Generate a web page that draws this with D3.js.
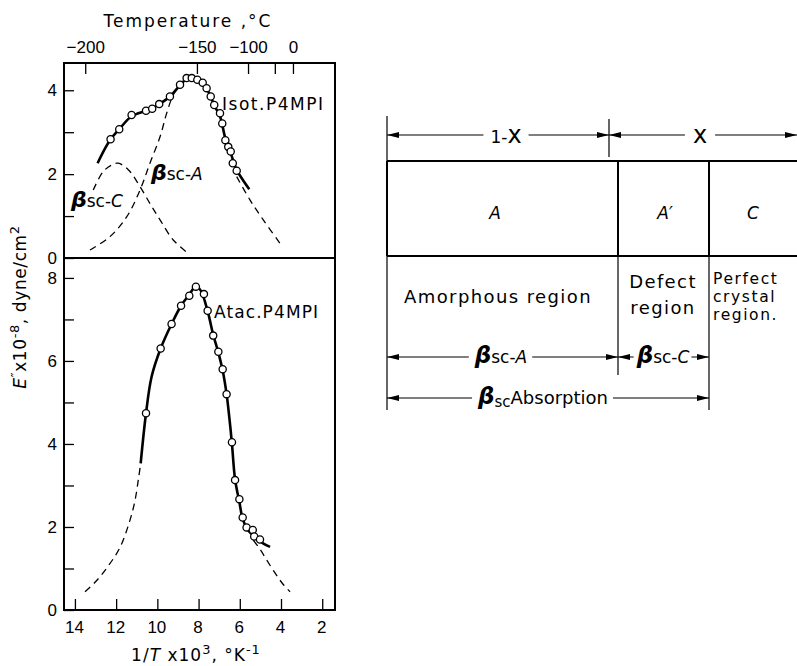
<!DOCTYPE html>
<html><head><meta charset="utf-8">
<script src="https://cdn.jsdelivr.net/npm/d3@7"></script>
<style>
body{margin:0;background:#fff}
svg{display:block}
text{font-family:"DejaVu Sans",sans-serif;fill:#000}
.tick text{font-family:"Liberation Sans",Arial,sans-serif;font-size:17px}
</style>
</head><body>
<svg id="c" width="797" height="666"></svg>
<script>
// ---------- data ----------
const xTickValues = [14, 12, 10, 8, 6, 4, 2];
const topTickLabels = ["\u2212200", "\u2212150", "\u2212100", "", "0"];
const topTickInv = [13.5, 8.08, 5.6, 4.3, 3.42];
const topYTicks = [0, 1, 2, 3, 4];
const botYTicks = [0, 1, 2, 3, 4, 5, 6, 7, 8];

// Isotactic P4MPI measured points [1/T x 10^3, E'' x 10^-8]
const isotX = [12.27, 11.85, 11.25, 10.55, 10.25, 9.91, 9.39, 8.90, 8.58, 8.33, 8.06, 7.80, 7.61, 7.41, 7.24, 6.96, 6.85, 6.70, 6.56, 6.44, 6.34, 6.15];
const isotY = [2.83, 3.07, 3.41, 3.51, 3.56, 3.67, 3.85, 4.13, 4.29, 4.29, 4.25, 4.18, 4.05, 3.85, 3.65, 3.45, 3.21, 2.81, 2.65, 2.54, 2.26, 2.08];
const isotFitX = [12.9, 12.55, 12.27, 11.85, 11.25, 10.55, 10.25, 9.91, 9.39, 8.9, 8.58, 8.33, 8.06, 7.8, 7.61, 7.41, 7.24, 6.96, 6.7, 6.44, 6.15, 5.85, 5.54];
const isotFitY = [2.26, 2.6, 2.83, 3.07, 3.38, 3.51, 3.57, 3.67, 3.85, 4.12, 4.28, 4.31, 4.27, 4.18, 4.04, 3.85, 3.64, 3.38, 2.85, 2.5, 2.1, 1.86, 1.64];
// beta_sc-C component (dashed)
const betaCX = [13.11, 12.63, 12.2, 11.9, 11.4, 10.84, 10.3, 9.87, 9.23, 8.5];
const betaCY = [1.62, 2.06, 2.22, 2.26, 2.1, 1.7, 1.25, 0.91, 0.43, 0.11];
// beta_sc-A component (dashed), hidden under the fit between the two branches
const betaALeftX = [13.27, 12.3, 11.49, 10.84, 10.36, 9.87, 9.55, 9.23, 8.95];
const betaALeftY = [0.19, 0.51, 0.98, 1.62, 2.26, 2.89, 3.45, 3.89, 4.1];
const betaARightX = [6.15, 5.5, 4.86, 4.05];
const betaARightY = [1.94, 1.38, 0.91, 0.35];

// Atactic P4MPI
const atacX = [10.55, 9.84, 9.31, 8.85, 8.45, 8.13, 7.74, 7.56, 7.29, 7.04, 6.83, 6.64, 6.38, 6.23, 6.02, 5.86, 5.67, 5.37, 5.30, 5.02];
const atacY = [4.74, 6.30, 6.89, 7.33, 7.57, 7.79, 7.61, 7.21, 6.61, 6.22, 5.80, 5.20, 4.04, 3.13, 2.67, 2.23, 1.99, 1.93, 1.77, 1.70];
const atacFitX = [10.81, 10.55, 10.28, 9.84, 9.31, 8.85, 8.45, 8.13, 7.9, 7.56, 7.29, 7.04, 6.83, 6.64, 6.5, 6.38, 6.23, 6.02, 5.86, 5.6, 5.2, 4.85, 4.53];
const atacFitY = [3.53, 4.74, 5.62, 6.3, 6.89, 7.33, 7.6, 7.8, 7.7, 7.2, 6.63, 6.2, 5.77, 5.2, 4.6, 4.0, 3.15, 2.6, 2.2, 1.92, 1.74, 1.6, 1.52];
const atacTailLX = [13.51, 13.0, 12.4, 11.82, 11.4, 11.1, 10.92, 10.81];
const atacTailLY = [0.44, 0.68, 1.05, 1.5, 2.05, 2.6, 3.15, 3.53];
const atacTailRX = [5.34, 5.0, 4.69, 4.3, 3.9, 3.56];
const atacTailRY = [1.68, 1.45, 1.2, 0.9, 0.62, 0.44];

// schematic (right)
const regionLabels = ["A", "A\u2032", "C"];
const regionTexts = [["Amorphous region"], ["Defect", "region"], ["Perfect", "crystal", "region."]];

const zip = (a, b) => a.map((v, i) => [v, b[i]]);

// ---------- layout ----------
const svg = d3.select("#c");
const L = 64, R = 335, T = 63, MID = 258, B = 610;
const x = d3.scaleLinear().domain([14.53, 1.38]).range([L, R]);
const yTop = d3.scaleLinear().domain([0, 4.65]).range([MID, T]);
const yBot = d3.scaleLinear().domain([0, 8.48]).range([B, MID]);

function rich(sel, parts) {
  let shift = 0;
  parts.forEach(p => {
    const ts = sel.append("tspan").text(p.t);
    let target = 0;
    if (p.sup) target = -(p.sup);
    if (p.sub) target = p.sub;
    const dy = target - shift;
    if (dy) ts.attr("dy", dy);
    shift = target;
    if (p.size) ts.style("font-size", p.size + "px");
    if (p.it) ts.style("font-style", "italic");
    if (p.b) ts.style("font-weight", "bold");
    if (p.ls != null) ts.style("letter-spacing", p.ls + "px");
  });
  return sel;
}

// axes
const gx = svg.append("g").attr("transform", `translate(0,${B})`)
  .call(d3.axisBottom(x).tickValues(xTickValues).tickSizeInner(-11).tickSizeOuter(0).tickPadding(11).tickFormat(d3.format("d")));
const gt = svg.append("g").attr("transform", `translate(0,${T})`)
  .call(d3.axisTop(x).tickValues(topTickInv).tickSizeInner(-11).tickSizeOuter(0).tickPadding(10)
    .tickFormat((d, i) => topTickLabels[i]));
const gyT = svg.append("g").attr("transform", `translate(${L},0)`)
  .call(d3.axisLeft(yTop).tickValues(topYTicks).tickSizeInner(-10).tickSizeOuter(0).tickPadding(7)
    .tickFormat(d => d % 2 === 0 ? d : ""));
const gyB = svg.append("g").attr("transform", `translate(${L},0)`)
  .call(d3.axisLeft(yBot).tickValues(botYTicks).tickSizeInner(-10).tickSizeOuter(0).tickPadding(7)
    .tickFormat(d => d % 2 === 0 ? d : ""));
[gx, gt, gyT, gyB].forEach(g => {
  g.select(".domain").remove();
  g.selectAll(".tick line").attr("stroke", "#000").attr("stroke-width", 1.3);
});
gx.selectAll(".tick text").attr("dx", "-1");

// frame
svg.append("rect").attr("x", L).attr("y", T).attr("width", R - L).attr("height", B - T)
  .attr("fill", "none").attr("stroke", "#000").attr("stroke-width", 2);
svg.append("line").attr("x1", L).attr("x2", R).attr("y1", MID).attr("y2", MID)
  .attr("stroke", "#000").attr("stroke-width", 2);

// lines
const lineT = d3.line().x(d => x(d[0])).y(d => yTop(d[1])).curve(d3.curveCatmullRom.alpha(0.5));
const lineB = d3.line().x(d => x(d[0])).y(d => yBot(d[1])).curve(d3.curveCatmullRom.alpha(0.5));
const dashed = {fill: "none", stroke: "#000", "stroke-width": 1.3, "stroke-dasharray": "7,5"};
const solid = {fill: "none", stroke: "#000", "stroke-width": 2.6};
function path(gen, data, style) {
  const p = svg.append("path").attr("d", gen(data));
  Object.entries(style).forEach(([k, v]) => p.attr(k, v));
}
path(lineT, zip(betaCX, betaCY), dashed);
path(lineT, zip(betaALeftX, betaALeftY), dashed);
path(lineT, zip(betaARightX, betaARightY), dashed);
path(lineT, zip(isotFitX, isotFitY), solid);
path(lineB, zip(atacTailLX, atacTailLY), dashed);
path(lineB, zip(atacTailRX, atacTailRY), dashed);
path(lineB, zip(atacFitX, atacFitY), solid);

svg.append("g").selectAll("circle").data(zip(isotX, isotY)).join("circle")
  .attr("cx", d => x(d[0])).attr("cy", d => yTop(d[1])).attr("r", 3.6)
  .attr("fill", "#fff").attr("stroke", "#000").attr("stroke-width", 1.3);
svg.append("g").selectAll("circle").data(zip(atacX, atacY)).join("circle")
  .attr("cx", d => x(d[0])).attr("cy", d => yBot(d[1])).attr("r", 3.6)
  .attr("fill", "#fff").attr("stroke", "#000").attr("stroke-width", 1.3);

// chart labels
svg.append("text").attr("x", 222).attr("y", 110).style("font-size", "17px")
  .attr("textLength", 101).attr("lengthAdjust", "spacing").text("Isot.P4MPI");
svg.append("text").attr("x", 214).attr("y", 318).style("font-size", "17px")
  .attr("textLength", 104).attr("lengthAdjust", "spacing").text("Atac.P4MPI");

function betaLabel(px, py, suffix, size) {
  const t = svg.append("text").attr("x", px).attr("y", py).style("font-size", size + "px");
  rich(t, [{t: "\u03B2", it: true, b: true, size: size + 5},
           {t: "sc", size: size},
           {t: "-", size: size},
           {t: suffix, it: true, size: size}]);
  return t;
}
betaLabel(151, 180, "A", 17);
betaLabel(71, 207, "C", 17);

// axis titles
const tt = svg.append("text").attr("x", 188).attr("y", 27).attr("text-anchor", "middle")
  .style("font-size", "17px").style("letter-spacing", "2px");
rich(tt, [{t: "Temperature ,\u00B0C"}]);

const bt = svg.append("text").attr("x", 196).attr("y", 661).attr("text-anchor", "middle")
  .style("font-size", "17px").style("letter-spacing", "1px");
rich(bt, [{t: "1/"}, {t: "T", it: true}, {t: " x10"}, {t: "3", sup: 7, size: 13},
          {t: ", \u00B0K", sup: 0}, {t: "-1", sup: 7, size: 13}]);

const yt = svg.append("text").attr("transform", "translate(26,307) rotate(-90)")
  .attr("text-anchor", "middle").style("font-size", "17px").style("letter-spacing", "0.6px");
rich(yt, [{t: "E", it: true}, {t: "\u2033", sup: 6, size: 13}, {t: "x10", sup: 0},
          {t: "-8", sup: 7, size: 13}, {t: ", dyne/cm", sup: 0}, {t: "2", sup: 7, size: 13}]);

// ---------- schematic ----------
const sc = svg.append("g");
const ink = "#000";
const defs = svg.append("defs");
defs.append("marker").attr("id", "ah").attr("viewBox", "0 0 12 6").attr("refX", 12).attr("refY", 3)
  .attr("markerWidth", 12).attr("markerHeight", 6).attr("markerUnits", "userSpaceOnUse")
  .attr("orient", "auto-start-reverse")
  .append("path").attr("d", "M0,0 L12,3 L0,6 Z").attr("fill", ink);

const edges = [387, 618, 709, 800]; // box region edges
const split = 609;                  // 1-x | x split in the top dimension
const boxTop = 161, boxBot = 256;

function vline(xx, y1, y2, w) {
  sc.append("line").attr("x1", xx).attr("x2", xx).attr("y1", y1).attr("y2", y2)
    .attr("stroke", ink).attr("stroke-width", w);
}
function dim(x1, x2, yy) {
  sc.append("line").attr("x1", x1).attr("x2", x2).attr("y1", yy).attr("y2", yy)
    .attr("stroke", ink).attr("stroke-width", 1.2)
    .attr("marker-start", "url(#ah)").attr("marker-end", "url(#ah)");
}
// vertical guide lines
vline(edges[0], 116, 410, 1.2);
vline(split, 119, 157, 1.2);
vline(edges[1], boxBot, 375, 1.2);
vline(edges[2], boxBot, 410, 1.2);
// box
sc.append("line").attr("x1", edges[0]).attr("x2", edges[3]).attr("y1", boxTop).attr("y2", boxTop)
  .attr("stroke", ink).attr("stroke-width", 2);
sc.append("line").attr("x1", edges[0]).attr("x2", edges[3]).attr("y1", boxBot).attr("y2", boxBot)
  .attr("stroke", ink).attr("stroke-width", 2);
[edges[0], edges[1], edges[2]].forEach(e => vline(e, boxTop, boxBot, 2));

// region letters
const letterX = [495, 665, 753];
regionLabels.forEach((lab, i) => {
  sc.append("text").attr("x", letterX[i]).attr("y", 219).attr("text-anchor", "middle")
    .style("font-size", "17px").style("font-style", "italic").text(lab);
});

// white backing behind a label that sits on a dimension line
function backed(t, padX) {
  const bb = t.node().getBBox();
  sc.insert("rect", () => t.node())
    .attr("x", bb.x - padX).attr("y", bb.y + 2).attr("width", bb.width + 2 * padX).attr("height", bb.height - 4)
    .attr("fill", "#fff");
  return t;
}

// dimension lines
dim(edges[0], split, 135);
dim(split, 797, 135);
backed(rich(sc.append("text").attr("x", 506).attr("y", 143).attr("text-anchor", "middle").style("font-size", "17px"),
  [{t: "1-"}, {t: "x", size: 24}]), 7);
backed(sc.append("text").attr("x", 700).attr("y", 143).attr("text-anchor", "middle").style("font-size", "24px").text("x"), 8);

// region descriptions
const descX = [498, 663, 713];
const descY = [[303], [288, 314], [284, 302, 320]];
regionTexts.forEach((lines, i) => {
  lines.forEach((ln, j) => {
    sc.append("text").attr("x", descX[i]).attr("y", descY[i][j])
      .attr("text-anchor", i === 2 ? "start" : "middle")
      .style("font-size", i === 2 ? "15.5px" : "18px")
      .style("letter-spacing", i === 2 ? "1.6px" : "1.4px")
      .text(ln);
  });
});

// beta arrows
dim(edges[0], edges[1], 357);
dim(edges[1], edges[2], 357);
dim(edges[0], edges[2], 398);
function betaBox(cx, cy, parts, pad) {
  const t = sc.append("text").attr("x", cx).attr("y", cy).attr("text-anchor", "middle").style("font-size", "17px");
  rich(t, parts);
  backed(t, pad);
}
betaBox(501, 363, [{t: "\u03B2", it: true, b: true, size: 23}, {t: "sc-", size: 17}, {t: "A", it: true}], 5);
betaBox(663, 363, [{t: "\u03B2", it: true, b: true, size: 23}, {t: "sc-", size: 17}, {t: "C", it: true}], 2);
betaBox(543, 404, [{t: "\u03B2", it: true, b: true, size: 23}, {t: "sc", sub: 3, size: 15}, {t: "Absorption", sub: 0, size: 18}], 5);
</script>
</body></html>
